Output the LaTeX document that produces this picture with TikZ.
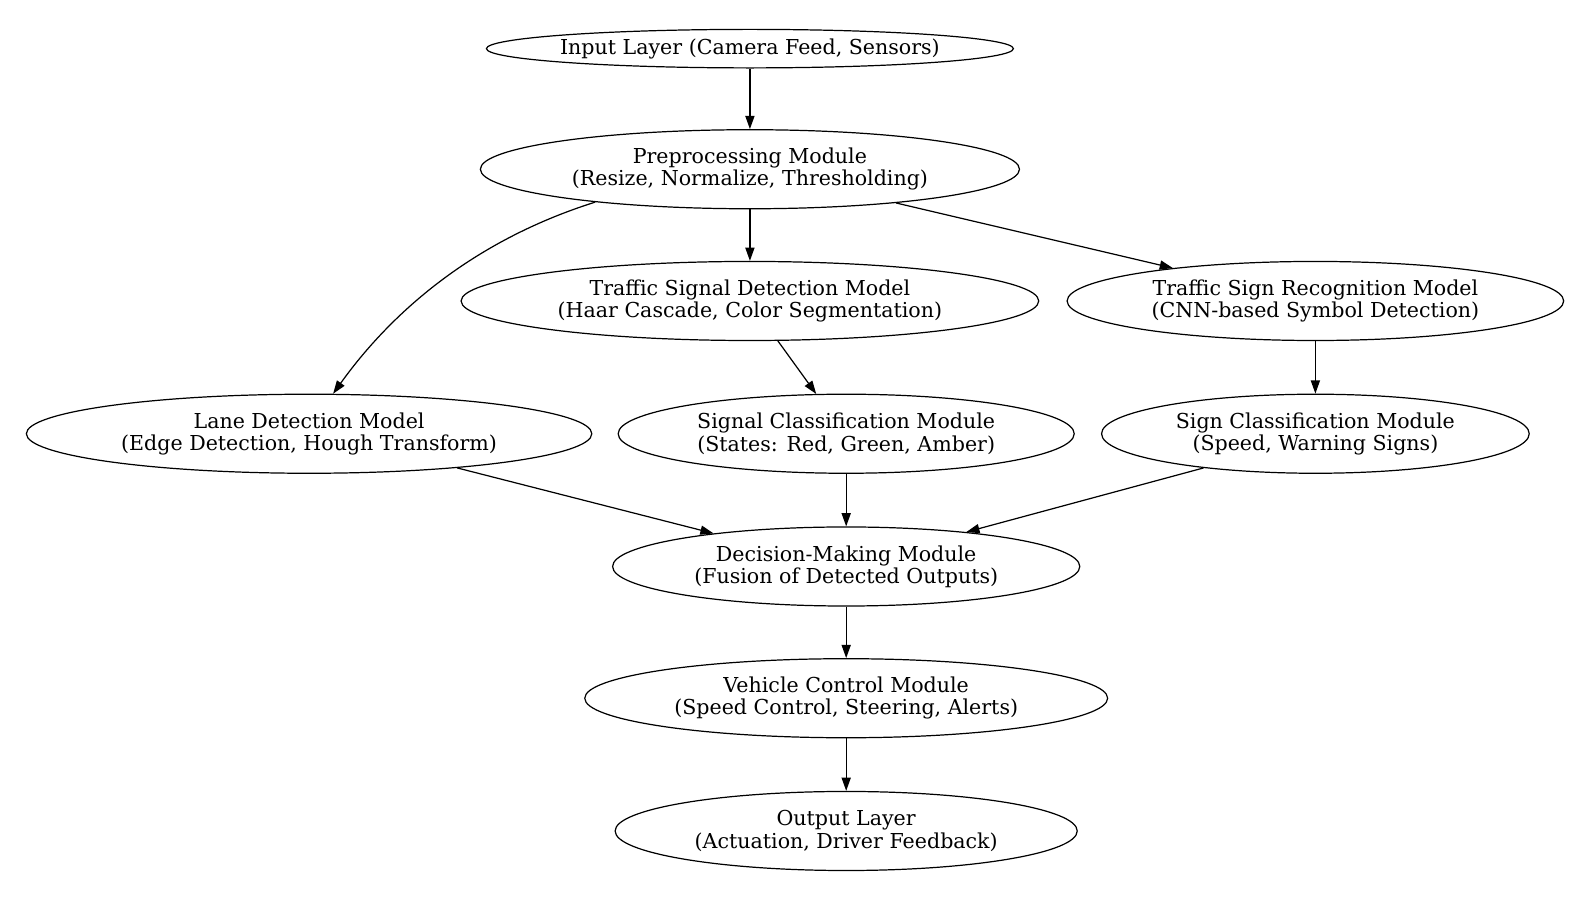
\documentclass[tikz,border=0pt]{standalone}
\usepackage{fontspec}
\setmainfont{DejaVu Serif}
\usetikzlibrary{shapes.geometric,arrows.meta}
\tikzset{
  box/.style={draw, ellipse, inner sep=0pt, line width=1.2pt, align=center,
    font=\fontsize{20.3}{22}\selectfont},
  edge/.style={-{Triangle[length=13pt,width=9pt]}, line width=1.2pt}
}
\begin{document}
\begin{tikzpicture}[x=1pt,y=-1pt]
\useasboundingbox (0,0) rectangle (1568,885);
\node[box, inner sep=-20pt, minimum width=520pt, minimum height=38pt] (in) at (740,48) {Input Layer (Camera Feed, Sensors)};
\node[box, minimum width=532pt, minimum height=78pt] (pre) at (740,167) {Preprocessing Module\\(Resize, Normalize, Thresholding)};
\node[box, minimum width=570pt, minimum height=78pt] (tsd) at (740,297) {Traffic Signal Detection Model\\(Haar Cascade, Color Segmentation)};
\node[box, minimum width=490pt, minimum height=78pt] (tsr) at (1298,297) {Traffic Sign Recognition Model\\(CNN-based Symbol Detection)};
\node[box, minimum width=558pt, minimum height=78pt] (lane) at (305,428) {Lane Detection Model\\(Edge Detection, Hough Transform)};
\node[box, minimum width=450pt, minimum height=78pt] (sigc) at (835,428) {Signal Classification Module\\(States: Red, Green, Amber)};
\node[box, minimum width=422pt, minimum height=78pt] (sgnc) at (1298,428) {Sign Classification Module\\(Speed, Warning Signs)};
\node[box, minimum width=461pt, minimum height=78pt] (dec) at (835,559) {Decision-Making Module\\(Fusion of Detected Outputs)};
\node[box, minimum width=516pt, minimum height=78pt] (veh) at (835,689) {Vehicle Control Module\\(Speed Control, Steering, Alerts)};
\node[box, minimum width=456pt, minimum height=78pt] (out) at (835,820) {Output Layer\\(Actuation, Driver Feedback)};
\draw[edge] (in.south) -- (pre.north);
\draw[edge] (pre.south) -- (tsd.north);
\draw[edge] (pre.-13.8) -- (tsr.167.7);
\draw[edge] (pre.-168.5) .. controls (465,238) and (385,310) .. (lane.59);
\draw[edge] (tsd.-55) -- (sigc.127.6);
\draw[edge] (tsr.south) -- (sgnc.north);
\draw[edge] (lane.-13.7) -- (dec.166);
\draw[edge] (sigc.south) -- (dec.north);
\draw[edge] (sgnc.-163.5) -- (dec.16.2);
\draw[edge] (dec.south) -- (veh.north);
\draw[edge] (veh.south) -- (out.north);
\end{tikzpicture}
\end{document}
